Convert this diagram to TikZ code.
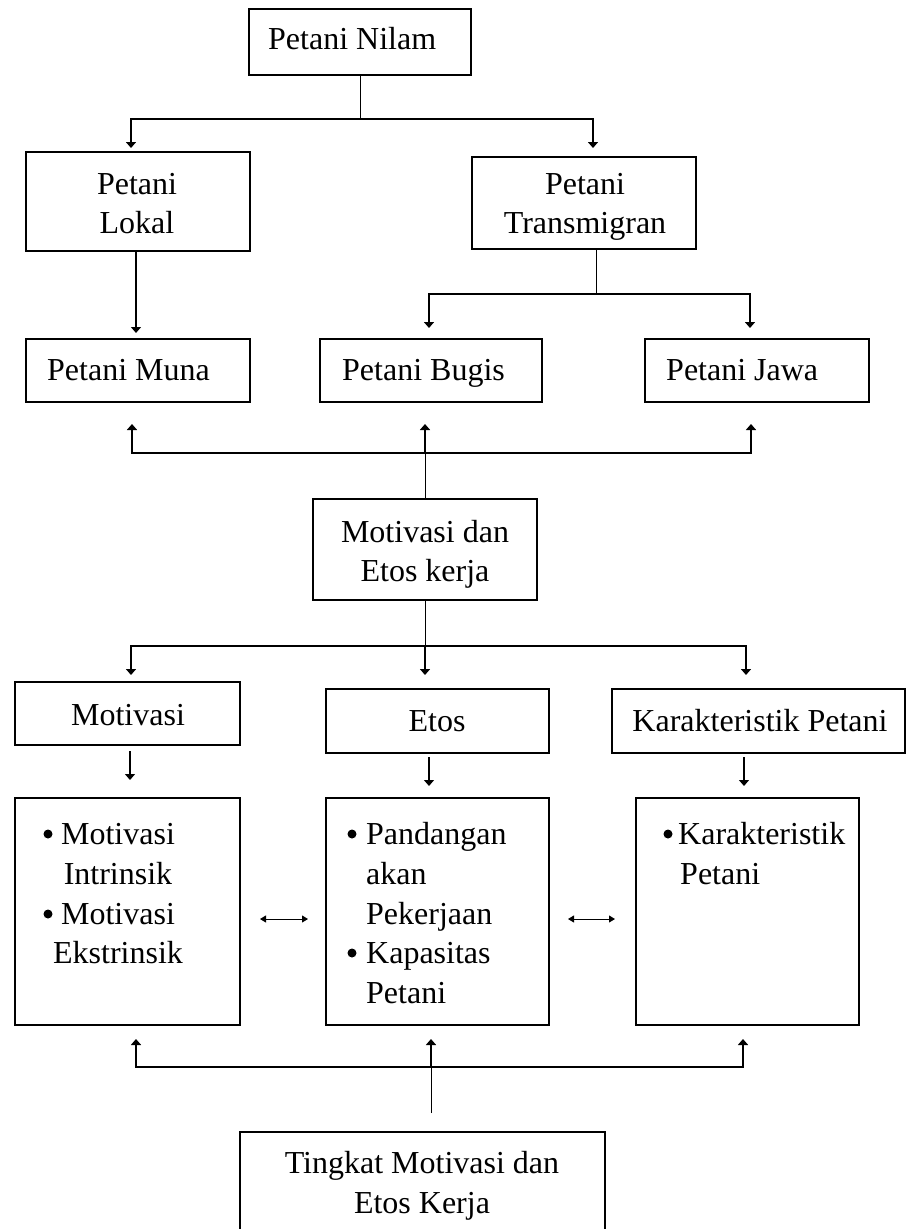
\documentclass[tikz,border=0pt]{standalone}
\usepackage{fontspec}
\setmainfont{Liberation Serif}
\usetikzlibrary{arrows.meta}
\newcommand\mybox[5]{\node[box, minimum width={(#4-#2)*1pt}, minimum height={(#5-#3)*1pt}] (#1) at ({(#2+#4)/2},{(#3+#5)/2}) {};}
\begin{document}
\begin{tikzpicture}[x=1pt,y=-1pt,
 box/.style={draw, line width=2pt, inner sep=0pt},
 txt/.style={inner sep=0pt, anchor=base, font=\fontsize{32}{40}\selectfont},
 txtw/.style={txt, anchor=base west},
 bus/.style={line width=2pt},
 stem/.style={line width=1pt},
 arr/.style={line width=2pt, -{Triangle[width=10pt,length=6pt]}},
 thinarr/.style={line width=1.3pt, -{Triangle[width=10pt,length=6pt]}},
 dbl/.style={line width=1pt, {Triangle[width=7pt,length=6pt]}-{Triangle[width=7pt,length=6pt]}}]
\useasboundingbox (0,0) rectangle (914,1229);
% boxes
\mybox{nilam}{249}{9}{471}{75}
\mybox{lokal}{26}{152}{250}{251}
\mybox{trans}{472}{157}{696}{249}
\mybox{muna}{26}{339}{250}{402}
\mybox{bugis}{320}{339}{542}{402}
\mybox{jawa}{645}{339}{869}{402}
\mybox{moet}{313}{499}{537}{600}
\mybox{mot}{15}{682}{240}{745}
\mybox{etos}{326}{689}{549}{753}
\mybox{kar}{612}{689}{905}{753}
\mybox{motL}{15}{798}{240}{1025}
\mybox{etosL}{326}{798}{549}{1025}
\mybox{karL}{636}{798}{859}{1025}
\mybox{ting}{240}{1132}{605}{1245}
% texts
\node[txtw] (tnilam) at (268,49) {Petani Nilam};
\node[txt] (tlok1) at (137,194) {Petani};
\node[txt] (tlok2) at (137,233) {Lokal};
\node[txt] (ttr1) at (585,194) {Petani};
\node[txt] (ttr2) at (585,233) {Transmigran};
\node[txtw] (tmuna) at (47,380) {Petani Muna};
\node[txtw] (tbugis) at (342,380) {Petani Bugis};
\node[txtw] (tjawa) at (666,380) {Petani Jawa};
\node[txt] (tmoet1) at (425,542) {Motivasi dan};
\node[txt] (tmoet2) at (425,581) {Etos kerja};
\node[txt] (tmot) at (128,725) {Motivasi};
\node[txt] (tetos) at (437,731) {Etos};
\node[txt] (tkar) at (760,731) {Karakteristik Petani};
% lists
\fill (48,834) circle[radius=4.5pt];
\node[txt] (l11) at (118,844) {Motivasi};
\node[txt] (l12) at (118,884) {Intrinsik};
\fill (48,914) circle[radius=4.5pt];
\node[txt] (l13) at (118,924) {Motivasi};
\node[txt] (l14) at (118,963) {Ekstrinsik};
\fill (352,834) circle[radius=4.5pt];
\node[txtw] (l21) at (366,844) {Pandangan};
\node[txtw] (l22) at (366,884) {akan};
\node[txtw] (l23) at (366,924) {Pekerjaan};
\fill (352,953) circle[radius=4.5pt];
\node[txtw] (l24) at (366,963) {Kapasitas};
\node[txtw] (l25) at (366,1003) {Petani};
\fill (668,834) circle[radius=4.5pt];
\node[txtw] (l31) at (678,844) {Karakteristik};
\node[txtw] (l32) at (680,884) {Petani};
\node[txt] (tting1) at (422,1173) {Tingkat Motivasi dan};
\node[txt] (tting2) at (422,1213) {Etos Kerja};
% connectors
\draw[stem] (nilam.south) -- (360,119) coordinate (j1);
\draw[arr] (j1) -| (131,148);
\draw[arr] (j1) -| (593,148);
\draw[thinarr] (136,251) -- (136,333);
\draw[stem] (596,249) -- (596,294) coordinate (j2);
\draw[arr] (j2) -| (429,328);
\draw[arr] (j2) -| (750,328);
\draw[stem] (moet.north) -- (425,453) coordinate (j3);
\draw[arr] (j3) -| (132,424);
\draw[arr] (j3) -| (751,424);
\draw[arr] (j3) -- (425,424);
\draw[stem] (moet.south) -- (425,646) coordinate (j4);
\draw[arr] (j4) -| (131,675);
\draw[arr] (j4) -| (746,675);
\draw[arr] (j4) -- (425,675);
\draw[thinarr] (130,751) -- (130,780);
\draw[thinarr] (429,757) -- (429,786);
\draw[thinarr] (744,757) -- (744,786);
\draw[dbl] (260,919) -- (308,919);
\draw[dbl] (568,919) -- (615,919);
\draw[stem] (431,1113) -- (431,1067) coordinate (j5);
\draw[arr] (j5) -| (136,1039);
\draw[arr] (j5) -| (743,1039);
\draw[arr] (j5) -- (431,1039);
\end{tikzpicture}
\end{document}
